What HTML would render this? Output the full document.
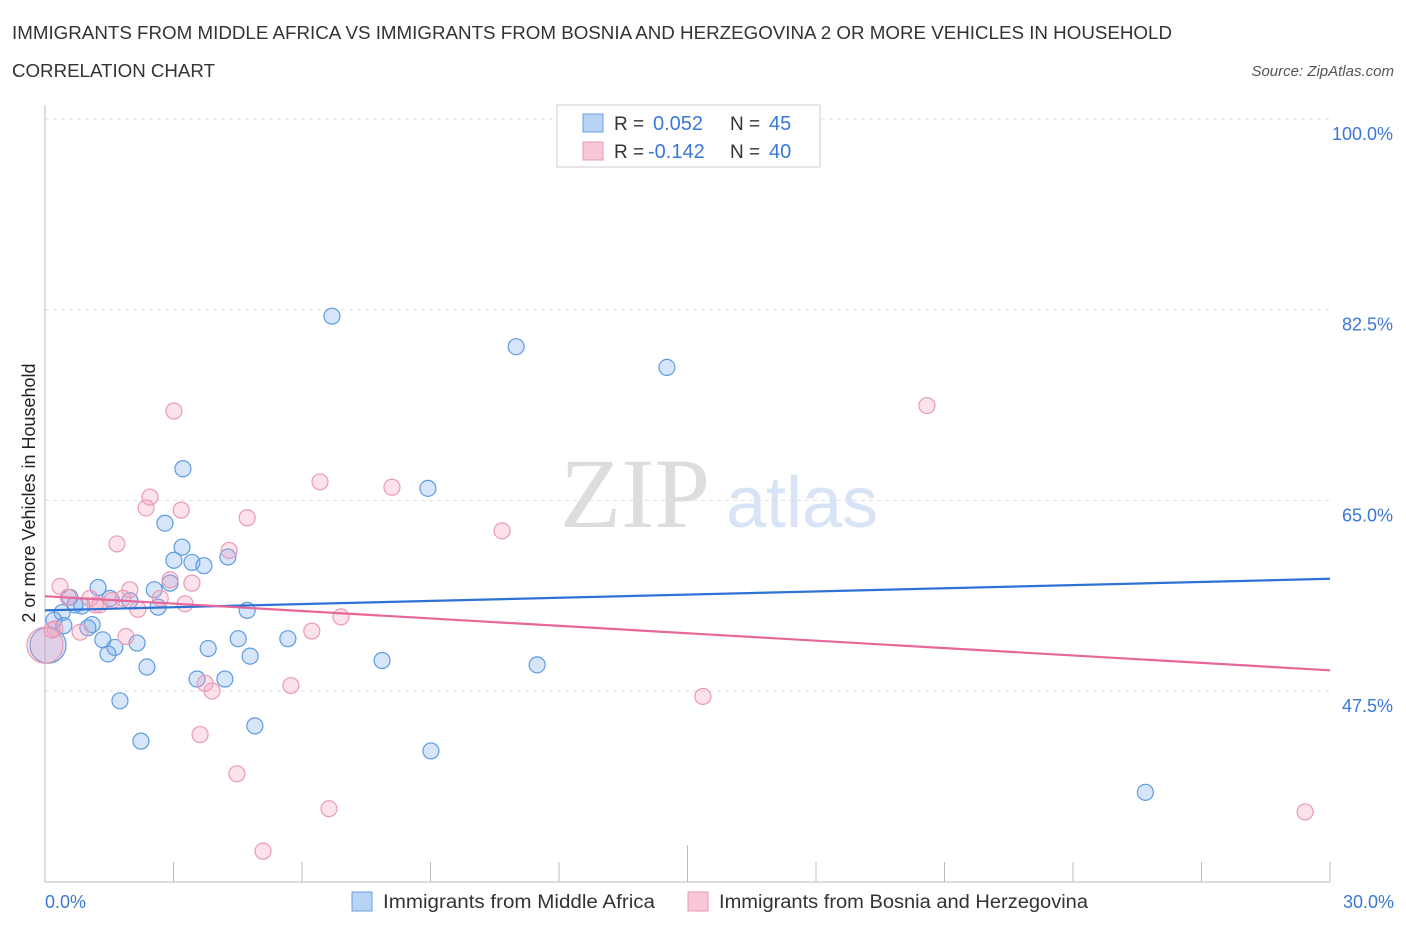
<!DOCTYPE html>
<html><head><meta charset="utf-8"><style>
body{margin:0;background:#fff;font-family:"Liberation Sans",sans-serif;}
</style></head><body>
<svg width="1406" height="930" xmlns="http://www.w3.org/2000/svg" font-family="Liberation Sans, sans-serif">
<text x="12" y="39" font-size="18" fill="#333" textLength="1160" lengthAdjust="spacingAndGlyphs">IMMIGRANTS FROM MIDDLE AFRICA VS IMMIGRANTS FROM BOSNIA AND HERZEGOVINA 2 OR MORE VEHICLES IN HOUSEHOLD</text>
<text x="12" y="77" font-size="18" fill="#333" textLength="203" lengthAdjust="spacingAndGlyphs">CORRELATION CHART</text>
<text x="1394" y="76" font-size="15" fill="#555" text-anchor="end" font-style="italic">Source: ZipAtlas.com</text>
<text x="635" y="527" font-size="100" fill="#ddd" text-anchor="middle" font-family="Liberation Serif, serif">ZIP</text>
<text x="802" y="527" font-size="72" fill="#d6e4f5" text-anchor="middle">atlas</text>
<g id="grid"></g>
<g id="axes"></g>
<g id="marks"></g>
<g id="trends"></g>
<text x="35" y="493" font-size="18" fill="#222" text-anchor="middle" transform="rotate(-90 35 493)">2 or more Vehicles in Household</text>
<text x="45" y="908" font-size="18" fill="#3a78d8">0.0%</text>
<text x="1394" y="908" font-size="18" fill="#3a78d8" text-anchor="end">30.0%</text>
<g>
<rect x="557" y="105" width="263" height="62" fill="#fff" stroke="#ccc"/>
<rect x="583" y="114" width="20" height="18" fill="#b8d3f3" stroke="#6aa0e0"/>
<rect x="583" y="142" width="20" height="18" fill="#f9c8d6" stroke="#eb97b2"/>
<text x="614" y="130" font-size="19" fill="#333">R =</text>
<text x="653" y="130" font-size="20" fill="#3a78d8">0.052</text>
<text x="730" y="130" font-size="19" fill="#333">N =</text>
<text x="769" y="130" font-size="20" fill="#3a78d8">45</text>
<text x="614" y="158" font-size="19" fill="#333">R =</text>
<text x="648" y="158" font-size="20" fill="#3a78d8">-0.142</text>
<text x="730" y="158" font-size="19" fill="#333">N =</text>
<text x="769" y="158" font-size="20" fill="#3a78d8">40</text>
</g>
<g>
<rect x="352" y="892" width="20" height="19" fill="#b8d3f3" stroke="#6aa0e0"/>
<text x="383" y="908" font-size="19" fill="#333" textLength="272" lengthAdjust="spacingAndGlyphs">Immigrants from Middle Africa</text>
<rect x="688" y="892" width="20" height="19" fill="#f9c8d6" stroke="#eb97b2"/>
<text x="719" y="908" font-size="19" fill="#333" textLength="369" lengthAdjust="spacingAndGlyphs">Immigrants from Bosnia and Herzegovina</text>
</g>
</svg>
<script>
const yTicks=[100,82.5,65,47.5];
const yTickLabels=["100.0%","82.5%","65.0%","47.5%"];
const xTicks=[0,3,6,9,12,15,18,21,24,27,30];
const blueX=[6.70,11.00,14.52,3.22,8.94,2.80,3.20,3.01,3.43,3.71,4.27,1.24,2.55,2.92,1.98,2.64,4.72,0.58,0.86,0.40,0.21,1.10,0.44,1.00,1.35,1.63,2.15,1.47,3.81,4.51,5.67,4.79,2.38,7.87,11.49,3.55,4.20,1.75,4.90,2.24,9.01,25.69,0.07,1.52,0.70];
const blueY=[81.9,79.1,77.2,67.9,66.1,62.9,60.7,59.5,59.3,59.0,59.8,57.0,56.8,57.4,55.8,55.2,54.9,56.1,55.3,54.7,54.0,53.6,53.5,53.3,52.2,51.5,51.9,50.9,51.4,52.3,52.3,50.7,49.7,50.3,49.9,48.6,48.6,46.6,44.3,42.9,42.0,38.2,51.7,56.0,55.4];
const blueR=[8,8,8,8,8,8,8,8,8,8,8,8,8,8,8,8,8,8,8,8,8,8,8,8,8,8,8,8,8,8,8,8,8,8,8,8,8,8,8,8,8,8,18,8,8];
const pinkX=[3.01,20.59,6.42,8.10,2.45,2.36,3.18,4.72,10.67,1.68,4.30,0.35,3.43,2.92,1.98,0.54,1.05,1.28,1.56,2.69,3.27,2.17,6.91,6.23,1.89,0.82,0.23,3.74,5.74,3.90,15.36,3.62,4.48,6.63,29.42,5.09,0,0.16,1.17,1.82];
const pinkY=[73.2,73.7,66.7,66.2,65.3,64.3,64.1,63.4,62.2,61.0,60.4,57.1,57.4,57.7,56.8,56.1,56.0,55.4,55.8,56.0,55.5,55.0,54.3,53.0,52.5,52.9,53.2,48.2,48.0,47.5,47.0,43.5,39.9,36.7,36.4,32.8,51.7,53.1,55.4,56.0];
const pinkR=[8,8,8,8,8,8,8,8,8,8,8,8,8,8,8,8,8,8,8,8,8,8,8,8,8,8,8,8,8,8,8,8,8,8,8,8,18,8,8,8];
const blueTrend=[54.9,57.8];
const pinkTrend=[56.2,49.4];
const trendX=[0,30];
const NS="http://www.w3.org/2000/svg";
const X0=45,X1=1330,Ytop=119,Ybot=882;
function x(v){return X0+v*(X1-X0)/30;}
function y(v){return Ytop+(100-v)*(691-119)/(100-47.5);}
function mk(tag,attrs,parent){const e=document.createElementNS(NS,tag);for(const k in attrs)e.setAttribute(k,attrs[k]);parent.appendChild(e);return e;}
const grid=document.getElementById('grid'),axes=document.getElementById('axes'),marks=document.getElementById('marks'),trends=document.getElementById('trends');
yTicks.forEach((t,i)=>{
 const l=mk('line',{x1:X0,x2:X1,y1:y(t),y2:y(t),stroke:'#ddd','stroke-dasharray':'4,4'},grid);
 
 
 const tx=mk('text',{x:1393,y:y(t)+21,'font-size':18,fill:'#3a78d8','text-anchor':'end'},axes);
 tx.textContent=yTickLabels[i];
 
 
});
const ax=mk('line',{x1:X0,x2:X1,y1:Ybot,y2:Ybot,stroke:'#bbb'},axes);


const ay=mk('line',{x1:X0,x2:X0,y1:105,y2:Ybot,stroke:'#bbb'},axes);


xTicks.forEach((t,i)=>{
 const tk=mk('line',{x1:x(t),x2:x(t),y1:Ybot,y2:i==5?845:862,stroke:'#bbb'},axes);
 
 
});
function pts(xs,ys,rs,fill,stroke,name){
 xs.forEach((v,i)=>{
  const c=mk('circle',{cx:x(v),cy:y(ys[i]),r:rs[i],fill:fill,stroke:stroke,'stroke-width':1.2},marks);
  
  
 });
}
pts(blueX,blueY,blueR,'rgba(120,170,235,0.3)','#5e9be0','point-middle-africa');
pts(pinkX,pinkY,pinkR,'rgba(245,160,190,0.3)','#e99ab5','point-bosnia');
const bt=mk('line',{x1:x(trendX[0]),y1:y(blueTrend[0]),x2:x(trendX[1]),y2:y(blueTrend[1]),stroke:'#2f72d6','stroke-width':2.2},trends);


const pt=mk('line',{x1:x(trendX[0]),y1:y(pinkTrend[0]),x2:x(trendX[1]),y2:y(pinkTrend[1]),stroke:'#e8679a','stroke-width':2.2},trends);


</script>
</body></html>
